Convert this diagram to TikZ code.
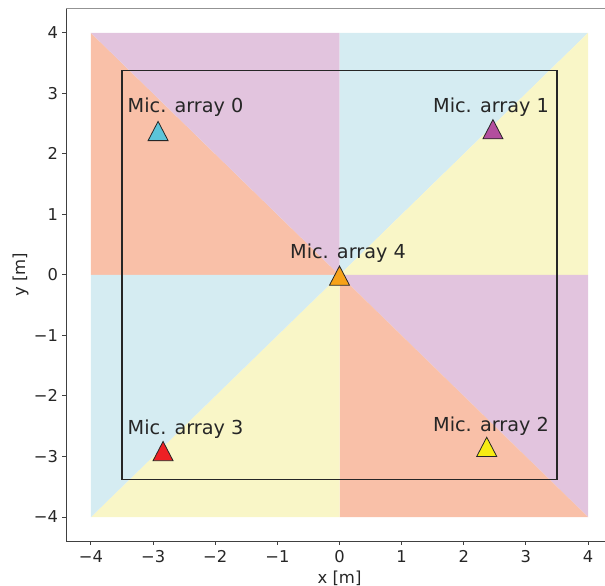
\documentclass[tikz,border=0pt]{standalone}
\usepackage{fontspec}
\setmainfont{DejaVu Sans}
\usetikzlibrary{positioning}

\definecolor{sectsalmon}{HTML}{F9C0A8}
\definecolor{sectpurple}{HTML}{E2C4DE}
\definecolor{sectblue}{HTML}{D5ECF2}
\definecolor{sectyellow}{HTML}{F9F6C7}
\definecolor{miccyan}{HTML}{5BC4D9}
\definecolor{micmagenta}{HTML}{B34E9E}
\definecolor{micyellow}{HTML}{F7EC13}
\definecolor{micred}{HTML}{EE2024}
\definecolor{micorange}{HTML}{F7A219}
\definecolor{inkdark}{HTML}{262626}

\begin{document}
\begin{tikzpicture}[x=62.125pt,y=60.5pt,
    micmark/.style={draw=inkdark,line width=0.8pt,line join=miter},
    miclabel/.style={anchor=base,text=inkdark,inner sep=0pt,font=\fontsize{19.25}{23}\selectfont},
    ticklabel/.style={text=inkdark,inner sep=0pt,font=\fontsize{16.3}{20}\selectfont},
    axislabel/.style={text=inkdark,inner sep=0pt,anchor=base,font=\fontsize{16.5}{20}\selectfont}]
    \useasboundingbox (-5.4648,-5.1405) rectangle (4.2736,4.5455);

    % sectors
    \fill[sectsalmon] (-4,4) -- (0,0) -- (-4,0) -- cycle;
    \fill[sectpurple] (-4,4) -- (0,4) -- (0,0) -- cycle;
    \fill[sectblue] (0,4) -- (4,4) -- (0,0) -- cycle;
    \fill[sectyellow] (4,4) -- (4,0) -- (0,0) -- cycle;
    \fill[sectpurple] (4,0) -- (4,-4) -- (0,0) -- cycle;
    \fill[sectsalmon] (4,-4) -- (0,-4) -- (0,0) -- cycle;
    \fill[sectyellow] (0,-4) -- (-4,-4) -- (0,0) -- cycle;
    \fill[sectblue] (-4,-4) -- (-4,0) -- (0,0) -- cycle;

    % room
    \draw[inkdark,line width=1.3pt] (-3.5,-3.38) rectangle (3.5,3.38);

    % axes
    \draw[gray!85,line width=1.4pt] (-4.4,4.4) -- (4.4,4.4);
    \draw[black!75,line width=1.2pt] (-4.4,4.4) -- (-4.4,-4.4) -- (4.4,-4.4);
    \foreach \t/\l in {-4/−4,-3/−3,-2/−2,-1/−1,0/0,1/1,2/2,3/3,4/4} {
        \draw[black!75,line width=1pt] (\t,-4.4) -- ++(0,-4pt);
        \draw[black!75,line width=1pt] (-4.4,\t) -- ++(-4pt,0);
        \node[ticklabel,anchor=base] (xt\t) at (\t,-4.744) {\l};
        \node[ticklabel,anchor=east,text height=11.9pt,text depth=0pt] (yt\t) at ([xshift=-8pt]-4.4,\t) {\l};
    }
    \node[axislabel] (xlab) at (0,-5.099) {x [m]};
    \node[axislabel,rotate=90] (ylab) at (-5.062,0) {y [m]};

    % microphone arrays
    \coordinate (m0) at (-2.92,2.38);
    \coordinate (m1) at (2.47,2.41);
    \coordinate (m2) at (2.37,-2.84);
    \coordinate (m3) at (-2.84,-2.91);
    \coordinate (m4) at (0,-0.01);
    \foreach \n/\c in {0/miccyan,1/micmagenta,2/micyellow,3/micred,4/micorange}
        \draw[micmark,fill=\c,shift={(m\n)}] (0,9.6pt) -- (-10pt,-9.6pt) -- (10pt,-9.6pt) -- cycle;

    \node[miclabel] (lab0) at (-2.478,2.694) {Mic. array 0};
    \node[miclabel] (lab1) at (2.439,2.694) {Mic. array 1};
    \node[miclabel] (lab2) at (2.439,-2.58) {Mic. array 2};
    \node[miclabel] (lab3) at (-2.478,-2.63) {Mic. array 3};
    \node[miclabel] (lab4) at (0.137,0.28) {Mic. array 4};
\end{tikzpicture}
\end{document}
